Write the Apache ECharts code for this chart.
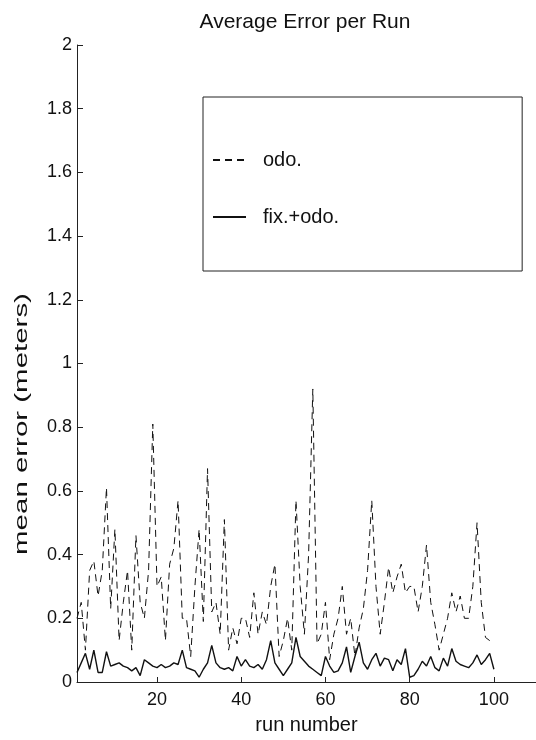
<!DOCTYPE html>
<html>
<head>
<meta charset="utf-8">
<script src="https://cdn.jsdelivr.net/npm/echarts@6/dist/echarts.min.js"></script>
<style>
html,body{margin:0;padding:0;background:#fff;}
#chart{width:536px;height:740px;}
</style>
</head>
<body>
<div id="chart"></div>
<script>
const runs = Array.from({length: 100}, (_, i) => i + 1);
const odo = [
  0.20, 0.25, 0.10, 0.35, 0.38, 0.27, 0.35, 0.61, 0.23, 0.48,
  0.13, 0.25, 0.35, 0.10, 0.46, 0.25, 0.20, 0.35, 0.81, 0.30,
  0.33, 0.13, 0.37, 0.42, 0.57, 0.20, 0.20, 0.08, 0.30, 0.48,
  0.19, 0.67, 0.22, 0.25, 0.15, 0.51, 0.10, 0.17, 0.12, 0.20,
  0.20, 0.14, 0.28, 0.15, 0.22, 0.18, 0.30, 0.37, 0.08, 0.13,
  0.20, 0.10, 0.57, 0.30, 0.15, 0.40, 0.92, 0.12, 0.15, 0.25,
  0.07, 0.15, 0.20, 0.30, 0.15, 0.20, 0.08, 0.17, 0.23, 0.35,
  0.57, 0.30, 0.15, 0.25, 0.36, 0.28, 0.33, 0.37, 0.28, 0.30,
  0.30, 0.22, 0.30, 0.43, 0.25, 0.18, 0.10, 0.15, 0.20, 0.28,
  0.22, 0.27, 0.20, 0.20, 0.30, 0.50, 0.25, 0.14, 0.13, 0.13
];
const fixOdo = [
  0.030, 0.060, 0.090, 0.040, 0.100, 0.030, 0.030, 0.095, 0.050, 0.055,
  0.060, 0.050, 0.045, 0.035, 0.045, 0.020, 0.070, 0.060, 0.050, 0.045,
  0.055, 0.045, 0.050, 0.060, 0.055, 0.100, 0.045, 0.040, 0.035, 0.015,
  0.040, 0.060, 0.115, 0.060, 0.045, 0.040, 0.045, 0.035, 0.080, 0.050,
  0.070, 0.050, 0.045, 0.055, 0.040, 0.070, 0.130, 0.060, 0.040, 0.020,
  0.040, 0.060, 0.140, 0.080, 0.065, 0.050, 0.040, 0.030, 0.020, 0.080,
  0.050, 0.030, 0.035, 0.060, 0.110, 0.030, 0.080, 0.125, 0.060, 0.040,
  0.070, 0.090, 0.050, 0.075, 0.070, 0.035, 0.070, 0.055, 0.105, 0.015,
  0.020, 0.040, 0.065, 0.050, 0.080, 0.045, 0.035, 0.075, 0.050, 0.105,
  0.065, 0.055, 0.050, 0.045, 0.060, 0.085, 0.055, 0.070, 0.090, 0.040
];
const xTicks = [20, 40, 60, 80, 100];
const seriesNames = ['odo.', 'fix.+odo.'];
const titleText = 'Average Error per Run';
const xName = 'run number';
const yName = 'mean error (meters)';

const font = 'Liberation Sans, Arial, Helvetica, sans-serif';
const ink = '#111';

const chart = echarts.init(document.getElementById('chart'), null, {renderer: 'canvas'});
chart.setOption({
  animation: false,
  backgroundColor: '#fff',
  title: {
    text: titleText,
    left: 300, top: 7, textAlign: 'center',
    textStyle: {fontFamily: font, fontSize: 21, fontWeight: 'normal', color: ink}
  },
  grid: {left: 77, right: -2, top: 45, bottom: 54, containLabel: false},
  legend: {
    orient: 'vertical',
    left: 203, top: 97,
    data: seriesNames,
    itemWidth: 33, itemHeight: 14, itemGap: 37,
    padding: [53, 183, 44, 9],
    borderColor: '#222', borderWidth: 1,
    itemStyle: {opacity: 0},
    textStyle: {fontFamily: font, fontSize: 20, color: ink, padding: [0, 0, 0, 12]}
  },
  graphic: [{
    type: 'text',
    x: 22, y: 424,
    rotation: Math.PI / 2,
    scaleX: 1.55,
    style: {
      text: yName, fontFamily: font, fontSize: 19, fill: ink,
      align: 'center', verticalAlign: 'middle'
    }
  }],
  xAxis: {
    type: 'value', min: 1, max: 110,
    name: xName, nameLocation: 'middle', nameGap: 33,
    nameTextStyle: {fontFamily: font, fontSize: 20, color: ink},
    axisLine: {lineStyle: {color: '#222', width: 1}},
    axisTick: {inside: true, length: 5, customValues: xTicks, lineStyle: {color: '#222'}},
    axisLabel: {customValues: xTicks, margin: 9, fontFamily: font, fontSize: 18, color: ink},
    splitLine: {show: false}
  },
  yAxis: {
    type: 'value', min: 0, max: 2, interval: 0.2,
    axisLine: {show: true, lineStyle: {color: '#222', width: 1}},
    axisTick: {show: true, inside: true, length: 6, lineStyle: {color: '#222'}},
    axisLabel: {margin: 5, fontFamily: font, fontSize: 18, color: ink,
      formatter: v => String(Math.round(v * 10) / 10)},
    splitLine: {show: false}
  },
  series: [
    {
      name: seriesNames[0], type: 'line', symbol: 'none',
      data: runs.map((r, i) => [r, odo[i]]),
      lineStyle: {color: '#111', width: 1, type: [7, 5]},
      itemStyle: {color: '#111'}
    },
    {
      name: seriesNames[1], type: 'line', symbol: 'none',
      data: runs.map((r, i) => [r, fixOdo[i]]),
      lineStyle: {color: '#111', width: 1.4, type: 'solid'},
      itemStyle: {color: '#111'}
    }
  ]
});
</script>
</body>
</html>
